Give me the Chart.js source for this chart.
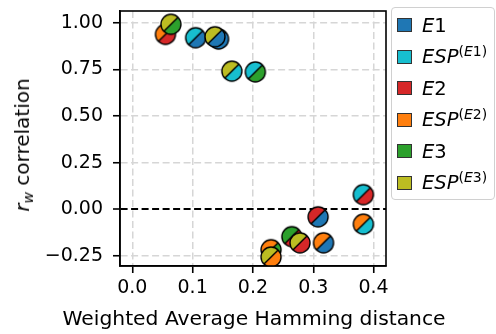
<!DOCTYPE html>
<html>
<head>
<meta charset="utf-8">
<script src="https://cdn.jsdelivr.net/npm/chart.js@4.4.0/dist/chart.umd.min.js"></script>
<style>
  body { margin: 0; background: #fff; font-family: 'DejaVu Sans', sans-serif; }
  #wrap { position: relative; width: 496px; height: 334px; overflow: hidden; }
  #chart { position: absolute; left: 0; top: 0; }
  #ylabel { position: absolute; left: 22px; top: 145px; transform: translate(-50%, -50%) rotate(-90deg);
            font-size: 20px; white-space: nowrap; color: #000; }
  #xlabel { position: absolute; left: 254px; top: 318px; transform: translate(-50%, -50%);
            font-size: 20.3px; white-space: nowrap; color: #000; }
  #legend { position: absolute; left: 391px; top: 7px; width: 104px; height: 193px; box-sizing: border-box;
            border: 1px solid #d0d0d0; border-radius: 4px; background: rgba(255,255,255,0.85); }
  .item { position: absolute; left: 5px; height: 24px; display: flex; align-items: center;
          font-size: 19.5px; white-space: nowrap; color: #000; }
  .sw { width: 15px; height: 14px; box-sizing: border-box; border: 1px solid #333; margin-right: 10px; flex: none; }
  sup { font-size: 14px; vertical-align: 7px; line-height: 0; }
  sub { font-size: 14px; vertical-align: -4px; line-height: 0; }
</style>
</head>
<body>
<div id="wrap">
  <canvas id="chart" width="496" height="334"></canvas>
  <div id="ylabel"><i>r</i><sub><i>w</i></sub> correlation</div>
  <div id="xlabel"></div>
  <div id="legend"></div>
</div>
<script>
const seriesNames = ['<i>E</i>1', '<i>ESP</i><sup>(<i>E</i>1)</sup>', '<i>E</i>2', '<i>ESP</i><sup>(<i>E</i>2)</sup>', '<i>E</i>3', '<i>ESP</i><sup>(<i>E</i>3)</sup>'];
const seriesColors = ['#1f77b4', '#17becf', '#d62728', '#ff7f0e', '#2ca02c', '#bcbd22'];

// one marker per pair of series, upper-left half / lower-right half
const hammingDist = [0.055, 0.064, 0.105, 0.143, 0.137, 0.165, 0.204, 0.383, 0.383, 0.308, 0.317, 0.2645, 0.278, 0.230, 0.230];
const rwCorr      = [0.937, 0.991, 0.919, 0.912, 0.924, 0.740, 0.736, 0.079, -0.079, -0.040, -0.179, -0.146, -0.179, -0.216, -0.255];
const upperHalf   = [3, 5, 1, 4, 5, 5, 1, 1, 3, 2, 3, 4, 5, 3, 5];
const lowerHalf   = [2, 4, 0, 0, 0, 1, 4, 2, 1, 0, 0, 2, 2, 4, 3];

const xTicks = [0, 0.1, 0.2, 0.3, 0.4];
const yTicks = [-0.25, 0, 0.25, 0.5, 0.75, 1.0];
const zeroLine = 0;
const xTitle = 'Weighted Average Hamming distance';

const FONT = 'DejaVu Sans';

function makeMarker(colA, colB) {
    const size = 24, r = 10, m = size / 2;
    const c = document.createElement('canvas');
    c.width = size; c.height = size;
    const g = c.getContext('2d');
    g.fillStyle = colA;
    g.beginPath(); g.moveTo(m, m); g.arc(m, m, r, 0.75 * Math.PI, 1.75 * Math.PI); g.closePath(); g.fill();
    g.fillStyle = colB;
    g.beginPath(); g.moveTo(m, m); g.arc(m, m, r, -0.25 * Math.PI, 0.75 * Math.PI); g.closePath(); g.fill();
    g.strokeStyle = '#000';
    g.lineWidth = 1.4;
    const d = r * Math.SQRT1_2;
    g.beginPath(); g.moveTo(m - d, m + d); g.lineTo(m + d, m - d); g.stroke();
    g.beginPath(); g.arc(m, m, r, 0, 2 * Math.PI); g.stroke();
    return c;
}

const points = hammingDist.map((x, i) => ({x: x, y: rwCorr[i]}));
const markers = upperHalf.map((a, i) => makeMarker(seriesColors[a], seriesColors[lowerHalf[i]]));

const fmt = (v, n) => {
    if (Math.abs(v) < 1e-9) v = 0;
    return v.toFixed(n).replace('-', '\u2212');
};

const frame = {
    id: 'frame',
    afterDraw(chart) {
        const a = chart.chartArea, c = chart.ctx;
        c.save();
        c.strokeStyle = '#000';
        c.lineWidth = 1.6;
        c.strokeRect(a.left, a.top, a.right - a.left, a.bottom - a.top);
        c.restore();
    }
};

new Chart(document.getElementById('chart').getContext('2d'), {
    type: 'scatter',
    data: {
        datasets: [{
            data: points,
            pointStyle: markers,
            pointRadius: 10,
            pointHoverRadius: 10
        }]
    },
    options: {
        responsive: false,
        animation: false,
        events: [],
        layout: {padding: {top: 7, right: 110, left: 0, bottom: 0}},
        plugins: {legend: {display: false}, tooltip: {enabled: false}},
        scales: {
            x: {
                type: 'linear', min: -0.0204, max: 0.4206,
                afterBuildTicks: s => { s.ticks = xTicks.map(v => ({value: v})); },
                afterFit: s => { s.height = 68; s.paddingLeft = 0; s.paddingRight = 0; },
                ticks: {font: {family: FONT, size: 19}, color: '#000', padding: 4, maxRotation: 0,
                        callback: v => fmt(v, 1)},
                grid: {color: '#d6d6d6', lineWidth: 1.5, tickColor: '#000', tickLength: 7, tickWidth: 1.6},
                border: {color: '#000', width: 1.6, dash: [7, 3.5]}
            },
            y: {
                type: 'linear', min: -0.303, max: 1.062,
                afterBuildTicks: s => { s.ticks = yTicks.map(v => ({value: v})); },
                afterFit: s => { s.width = 120; s.paddingTop = 0; s.paddingBottom = 0; },
                ticks: {font: {family: FONT, size: 19}, color: '#000', padding: 10,
                        callback: v => fmt(v, 2)},
                grid: {
                    color: c => (c.tick && c.tick.value === zeroLine) ? '#000' : '#d6d6d6',
                    lineWidth: c => (c.tick && c.tick.value === zeroLine) ? 2 : 1.5,
                    tickColor: '#000', tickLength: 7, tickWidth: 1.6
                },
                border: {color: '#000', width: 1.6, dash: [7, 3.5]}
            }
        }
    },
    plugins: [frame]
});

document.getElementById('xlabel').textContent = xTitle;

const legend = document.getElementById('legend');
seriesNames.forEach((name, i) => {
    const item = document.createElement('div');
    item.className = 'item';
    item.style.top = (5 + i * 31.5) + 'px';
    item.innerHTML = `<span class="sw" style="background:${seriesColors[i]}"></span><span>${name}</span>`;
    legend.appendChild(item);
});
</script>
</body>
</html>
